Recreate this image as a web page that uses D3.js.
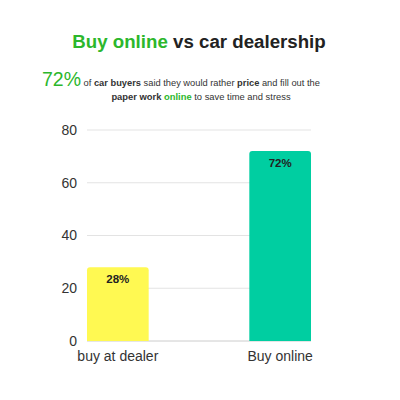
<!DOCTYPE html>
<html>
<head>
<meta charset="utf-8">
<script src="https://cdn.jsdelivr.net/npm/d3@7"></script>
<style>
body { margin: 0; background: #fff; }
text { font-family: "Liberation Sans", Arial, sans-serif; }
</style>
</head>
<body>
<script>
var categories = ["buy at dealer", "Buy online"];
var values = [28, 72];
var barColors = ["#fff952", "#00cea1"];
var yTicks = [0, 20, 40, 60, 80];

var margin = {top: 130, right: 89, bottom: 59, left: 87};
var width = 400 - margin.left - margin.right;
var height = 400 - margin.top - margin.bottom;

var svg = d3.select("body").append("svg")
.attr("width", 400)
.attr("height", 400);

// title
var title = svg.append("text")
.attr("x", 199)
.attr("y", 48)
.attr("text-anchor", "middle")
.attr("font-size", 18.7)
.attr("font-weight", "bold")
.attr("fill", "#222");
title.append("tspan").attr("fill", "#2cb72c").text("Buy online");
title.append("tspan").text(" vs car dealership");

// subtitle
var sub1 = svg.append("text")
.attr("x", 42)
.attr("y", 86)
.attr("font-size", 9.3)
.attr("fill", "#333");
sub1.append("tspan").attr("font-size", 19.5).attr("fill", "#2cb72c").text("72%");
sub1.append("tspan").text(" of ");
sub1.append("tspan").attr("font-weight", "bold").text("car buyers");
sub1.append("tspan").text(" said they would rather ");
sub1.append("tspan").attr("font-weight", "bold").text("price");
sub1.append("tspan").text(" and fill out the");

var sub2 = svg.append("text")
.attr("x", 201)
.attr("y", 100)
.attr("text-anchor", "middle")
.attr("font-size", 9.4)
.attr("fill", "#333");
sub2.append("tspan").attr("font-weight", "bold").text("paper work ");
sub2.append("tspan").attr("font-weight", "bold").attr("fill", "#2cb72c").text("online");
sub2.append("tspan").text(" to save time and stress");

var g = svg.append("g")
.attr("transform", "translate(" + margin.left + "," + margin.top + ")");

var xScale = d3.scaleBand().domain(categories).range([0, width]).paddingInner(0.62).paddingOuter(0);
var yScale = d3.scaleLinear().domain([0, 80]).range([height, 0]);

// grid
g.selectAll(".grid")
.data(yTicks)
.enter().append("line")
.attr("class", "grid")
.attr("x1", 0)
.attr("x2", width)
.attr("y1", function(d) { return yScale(d); })
.attr("y2", function(d) { return yScale(d); })
.attr("stroke", function(d) { return d === 0 ? "#ccc" : "#e3e3e3"; })
.attr("stroke-width", 1);

var yAxis = d3.axisLeft(yScale).tickValues(yTicks).tickSize(0).tickPadding(10);
var yAxisGroup = g.append("g").call(yAxis);
yAxisGroup.select(".domain").remove();
yAxisGroup.selectAll("text")
.attr("font-family", "Liberation Sans, Arial, sans-serif")
.attr("font-size", 14)
.attr("fill", "#333");

// bars with rounded tops
var r = 3;
g.selectAll(".bar")
.data(values)
.enter().append("path")
.attr("class", "bar")
.attr("fill", function(d, i) { return barColors[i]; })
.attr("d", function(d, i) {
  var x0 = xScale(categories[i]);
  var x1 = x0 + xScale.bandwidth();
  var y0 = yScale(d);
  var yb = yScale(0);
  return "M" + x0 + "," + yb +
    "V" + (y0 + r) +
    "Q" + x0 + "," + y0 + " " + (x0 + r) + "," + y0 +
    "H" + (x1 - r) +
    "Q" + x1 + "," + y0 + " " + x1 + "," + (y0 + r) +
    "V" + yb + "Z";
});

g.selectAll(".value")
.data(values)
.enter().append("text")
.attr("class", "value")
.attr("x", function(d, i) { return xScale(categories[i]) + xScale.bandwidth() / 2; })
.attr("y", function(d) { return yScale(d) + 16; })
.attr("text-anchor", "middle")
.attr("font-size", 11.5)
.attr("font-weight", "bold")
.attr("fill", "#222")
.text(function(d) { return d + "%"; });

var xAxis = d3.axisBottom(xScale).tickSize(0).tickPadding(10);
var xAxisGroup = g.append("g")
.attr("transform", "translate(0," + height + ")")
.call(xAxis);
xAxisGroup.select(".domain").remove();
xAxisGroup.selectAll("text")
.attr("font-family", "Liberation Sans, Arial, sans-serif")
.attr("font-size", 14)
.attr("fill", "#333");
</script>
</body>
</html>
